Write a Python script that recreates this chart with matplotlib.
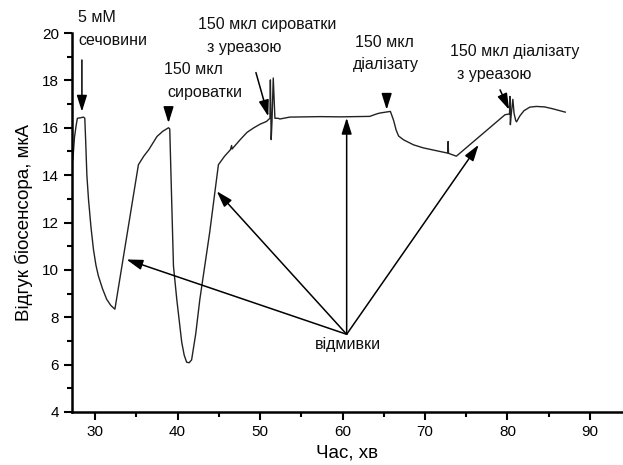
import matplotlib.pyplot as plt
from matplotlib.ticker import MultipleLocator

plt.rcParams['font.family'] = ['Liberation Sans', 'DejaVu Sans']

# biosensor response trace (time in min, response in uA)
time_min = [
    27.3, 27.5, 27.7, 27.85, 28.2, 28.6, 28.75, 28.85, 29.0, 29.2, 29.5, 29.8,
    30.1, 30.4, 30.9, 31.4, 31.9, 32.4,
    35.25, 35.9, 36.5, 37.0, 37.5, 38.2, 38.9, 39.05,
    39.2, 39.5, 39.9, 40.5, 40.8, 41.1, 41.4, 41.7, 42.2, 42.7, 43.9, 44.95,
    45.7, 46.4, 46.55, 46.6, 47.6, 48.4, 49.2, 50.0, 50.8, 51.0,
    51.2, 51.25, 51.35, 51.45, 51.6, 51.8, 52.2, 52.4, 53.6, 57.3, 59.7,
    63.3, 64.1, 64.5, 65.8, 66.0, 66.2, 66.5, 66.8, 67.4, 68.6, 69.8, 71.8,
    72.75, 72.8, 72.85, 73.8,
    79.7, 80.2, 80.25, 80.3, 80.35, 80.45, 80.65, 80.8, 81.0, 81.1, 81.5,
    82.0, 82.7, 83.5, 84.5, 85.5, 87.0,
]
response = [
    14.65, 15.6, 16.1, 16.4, 16.42, 16.45, 16.4, 15.5, 14.0, 12.97, 11.8, 10.86,
    10.2, 9.74, 9.2, 8.76, 8.5, 8.34,
    14.44, 14.8, 15.07, 15.35, 15.63, 15.85, 16.0, 15.95,
    14.0, 10.16, 8.76, 6.95, 6.4, 6.1, 6.08, 6.2, 7.3, 8.76, 11.6, 14.44,
    14.8, 15.07, 15.25, 15.1, 15.5, 15.8, 15.99, 16.15, 16.27, 16.34,
    16.4, 18.02, 15.5, 16.3, 18.1, 16.4, 16.4, 16.37, 16.45, 16.47, 16.46,
    16.48, 16.58, 16.62, 16.69, 16.5, 16.3, 15.9, 15.65, 15.49, 15.28, 15.15, 15.0,
    14.93, 15.42, 14.92, 14.8,
    16.55, 16.58, 16.6, 17.32, 16.13, 16.55, 17.2, 16.6, 16.3, 16.25, 16.5,
    16.72, 16.87, 16.9, 16.88, 16.8, 16.66,
]

# annotations: text, x, y (text left edge / centre)
labels = [
    ('5 мМ', 27.94, 20.67, 'left'),
    ('сечовини', 27.94, 19.7, 'left'),
    ('150 мкл', 38.3, 18.44, 'left'),
    ('сироватки', 38.75, 17.47, 'left'),
    ('150 мкл сироватки', 42.48, 20.38, 'left'),
    ('з уреазою', 43.58, 19.37, 'left'),
    ('150 мкл', 61.52, 19.58, 'left'),
    ('діалізату', 61.27, 18.65, 'left'),
    ('150 мкл діалізату', 73.03, 19.2, 'left'),
    ('з уреазою', 73.88, 18.23, 'left'),
    ('відмивки', 60.67, 6.84, 'center'),
]

# arrows: (tail x, tail y, tip x, tip y)
arrows = [
    (28.4, 18.86, 28.4, 16.68),
    (38.9, 16.76, 38.9, 16.2),
    (49.5, 18.33, 51.0, 16.48),
    (65.35, 17.39, 65.35, 16.76),
    (79.1, 17.6, 80.2, 16.76),
    (60.5, 7.28, 33.8, 10.44),
    (60.5, 7.28, 44.75, 13.32),
    (60.5, 7.28, 60.5, 16.42),
    (60.5, 7.28, 76.5, 15.28),
]

fig = plt.figure(figsize=(6.23, 4.65), dpi=100)
ax = fig.add_axes([0.1156, 0.114, 0.883, 0.815])

ax.plot(time_min, response, color='#222222', lw=1.0)

for txt, x, y, ha in labels:
    ax.text(x, y, txt, fontsize=11.5, ha=ha, va='center', color='#111111')

for x0, y0, x1, y1 in arrows:
    ax.annotate('', xy=(x1, y1), xytext=(x0, y0),
                arrowprops=dict(arrowstyle='-|>,head_length=0.7,head_width=0.22',
                                color='black', lw=1.1, mutation_scale=14,
                                shrinkA=0, shrinkB=0))

ax.set_xlim(27.2, 93.9)
ax.set_ylim(4, 20)
ax.xaxis.set_major_locator(MultipleLocator(10))
ax.xaxis.set_minor_locator(MultipleLocator(5))
ax.yaxis.set_major_locator(MultipleLocator(2))
ax.yaxis.set_minor_locator(MultipleLocator(1))
ax.tick_params(which='major', direction='out', length=6, width=1.5, labelsize=11)
ax.tick_params(which='minor', direction='out', length=3.5, width=1.5)

for side in ['top', 'right']:
    ax.spines[side].set_visible(False)
for side in ['left', 'bottom']:
    ax.spines[side].set_linewidth(1.8)

ax.set_xlabel('Час, хв', fontsize=13.5, labelpad=4)
ax.set_ylabel('Відгук біосенсора, мкА', fontsize=13.5, labelpad=6)

fig.savefig('out.png', dpi=100)
